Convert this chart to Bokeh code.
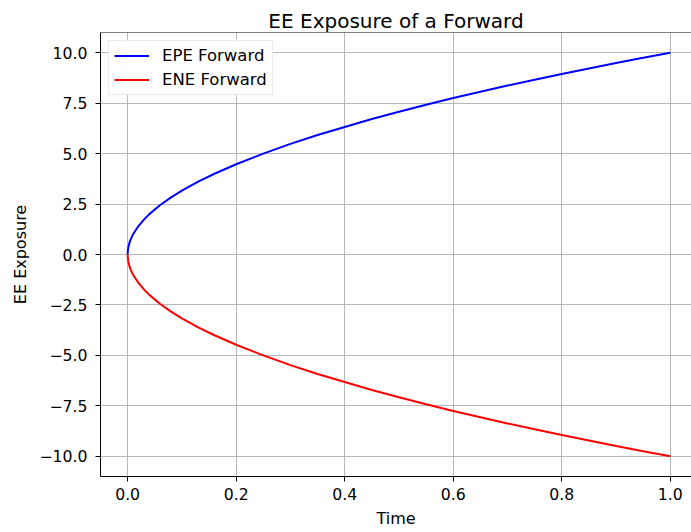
from bokeh.plotting import figure
from bokeh.models import (ColumnDataSource, Legend, LegendItem, Span,
                          FixedTicker, CustomJSTickFormatter, Range1d)
from bokeh.embed import file_html
from bokeh.resources import INLINE

# Expected exposure profile of a forward contract over its life
time = [0.0, 0.0005, 0.001, 0.0025, 0.005, 0.01, 0.02, 0.03, 0.04, 0.06, 0.08,
        0.1, 0.13, 0.16, 0.2, 0.25, 0.3, 0.35, 0.4, 0.45, 0.5, 0.55, 0.6,
        0.65, 0.7, 0.75, 0.8, 0.85, 0.9, 0.95, 1.0]
epe_forward = [0.0, 0.22, 0.32, 0.5, 0.71, 1.0, 1.41, 1.73, 2.0, 2.45, 2.83,
               3.16, 3.61, 4.0, 4.47, 5.0, 5.48, 5.92, 6.32, 6.71, 7.07, 7.42,
               7.75, 8.06, 8.37, 8.66, 8.94, 9.22, 9.49, 9.75, 10.0]
ene_forward = [-0.0, -0.22, -0.32, -0.5, -0.71, -1.0, -1.41, -1.73, -2.0, -2.45,
               -2.83, -3.16, -3.61, -4.0, -4.47, -5.0, -5.48, -5.92, -6.32,
               -6.71, -7.07, -7.42, -7.75, -8.06, -8.37, -8.66, -8.94, -9.22,
               -9.49, -9.75, -10.0]
x_ticks = [0.0, 0.2, 0.4, 0.6, 0.8, 1.0]
y_ticks = [-10.0, -7.5, -5.0, -2.5, 0.0, 2.5, 5.0, 7.5, 10.0]

FONT = "DejaVu Sans"
Y_TOP = 11.0
src = ColumnDataSource(dict(t=time, epe=epe_forward, ene=ene_forward))

p = figure(width=691, height=532, output_backend="svg", toolbar_location=None,
           x_range=Range1d(-0.05, 1.039), y_range=Range1d(-11.0, Y_TOP),
           min_border_left=100, min_border_right=0, min_border_top=32,
           min_border_bottom=56, x_axis_label="Time", y_axis_label="EE Exposure")

p.title.text = "EE Exposure of a Forward"
p.title.align = "center"
p.title.text_font = FONT
p.title.text_font_size = "20px"
p.title.text_font_style = "normal"
p.title.text_color = "#000000"
p.title.offset = 0
p.title.standoff = 0

p.outline_line_color = None
p.background_fill_color = "white"
p.border_fill_color = "white"

fmt = CustomJSTickFormatter(code="return tick.toFixed(1).replace('-', '\u2212');")
for ax, ticks in ((p.xaxis[0], x_ticks), (p.yaxis[0], y_ticks)):
    ax.ticker = FixedTicker(ticks=ticks)
    ax.formatter = fmt
    ax.major_label_text_font = FONT
    ax.major_label_text_font_size = "15.7px"
    ax.major_label_text_color = "#000000"
    ax.axis_label_text_font = FONT
    ax.axis_label_text_font_size = "16px"
    ax.axis_label_text_font_style = "normal"
    ax.axis_label_text_color = "#000000"
    ax.axis_line_color = "#000000"
    ax.major_tick_line_color = "#000000"
    ax.major_tick_out = 5
    ax.major_tick_in = 0
    ax.minor_tick_line_color = None
p.xaxis[0].major_label_standoff = 6
p.yaxis[0].major_label_standoff = 8
p.xaxis[0].axis_label_standoff = 6
p.yaxis[0].axis_label_standoff = 6

p.grid.grid_line_color = "#b0b0b0"
p.grid.grid_line_width = 0.9
p.xgrid.ticker = FixedTicker(ticks=x_ticks)
p.ygrid.ticker = FixedTicker(ticks=y_ticks)

# top spine along the upper edge of the plot frame
p.add_layout(Span(location=Y_TOP, dimension="width", line_color="#000000",
                  line_width=1))

r1 = p.line("t", "epe", source=src, line_color="blue", line_width=2)
r2 = p.line("t", "ene", source=src, line_color="red", line_width=2)

legend = Legend(items=[LegendItem(label="EPE Forward", renderers=[r1]),
                       LegendItem(label="ENE Forward", renderers=[r2])],
                location="top_left", label_text_font=FONT,
                label_text_font_size="16.5px", label_text_color="#000000",
                glyph_width=35, glyph_height=19,
                spacing=5, padding=5, margin=8, label_standoff=13,
                border_line_color="#d5d5d5", border_line_width=1)
p.add_layout(legend)

open("out.html", "w").write(file_html(p, INLINE))
